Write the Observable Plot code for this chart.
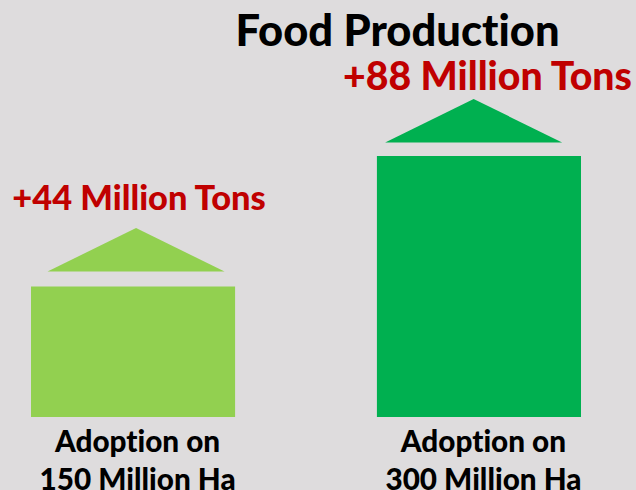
<!DOCTYPE html>
<html>
<head>
<meta charset="utf-8">
<script src="https://cdn.jsdelivr.net/npm/d3@7"></script>
<script src="https://cdn.jsdelivr.net/npm/@observablehq/plot@0.6"></script>
<style>
  html, body { margin: 0; padding: 0; background: #dedcdd; }
  svg { display: block; }
  svg text { font-variant-ligatures: none; font-feature-settings: "liga" 0; }
</style>
</head>
<body>
<script>
// Extra food production for each adoption area
const adoption = ["Adoption on\n150 Million Ha", "Adoption on\n300 Million Ha"];
const milProductionTons = [44, 88];
const gainLabels = ["+44 Million Tons", "+88 Million Tons"];
const barColors = ["#92d050", "#00b050"];
const chartTitle = "Food Production";

const rows = adoption.map((area, i) => ({area, tons: milProductionTons[i], gain: gainLabels[i]}));
const font = "Lato, Carlito, sans-serif";

// Wide, flat upward arrowhead whose base sits on the anchor point
const arrowHead = {
  draw(ctx) {
    ctx.moveTo(-88.5, 0);
    ctx.lineTo(0, -43.5);
    ctx.lineTo(88.5, 0);
    ctx.closePath();
  }
};

const arrow = (row, dx, dy) => Plot.dot([row], {
  x: "area", y: "tons", fill: "area", symbol: arrowHead, r: 10, dx, dy
});
const gainText = (row, dx, dy, fontSize) => Plot.text([row], {
  x: "area", y: "tons", text: "gain", dx, dy, fontSize,
  fill: "#c00000", fontWeight: 900, lineAnchor: "middle"
});

const chart = Plot.plot({
  width: 636,
  height: 490,
  marginTop: 0,
  marginRight: 55,
  marginBottom: 73,
  marginLeft: 31,
  style: {background: "#dedcdd", fontFamily: font},
  x: {type: "band", domain: adoption, paddingInner: 0.41, paddingOuter: 0, round: false, label: null},
  y: {domain: [0, 140.6], axis: null},
  color: {domain: adoption, range: barColors},
  marks: [
    Plot.barY(rows, {x: "area", y: "tons", fill: "area"}),
    arrow(rows[0], 2.5, -15.5),
    arrow(rows[1], -5.8, -14),
    gainText(rows[0], 5.5, -88, 34.4),
    gainText(rows[1], 8, -79, 39.2),
    Plot.axisX({
      tickSize: 0,
      tickPadding: 8,
      dx: 4,
      fontSize: 29.7,
      fontWeight: 900,
      lineHeight: 1.27,
      fill: "#000",
      label: null,
      tickFormat: d => d
    }),
    Plot.text([chartTitle], {
      text: d => d, frameAnchor: "top", dx: 91, dy: 32,
      lineAnchor: "middle", fontSize: 43.5, fontWeight: 900, fill: "#000"
    })
  ]
});
document.body.append(chart);
</script>
</body>
</html>
